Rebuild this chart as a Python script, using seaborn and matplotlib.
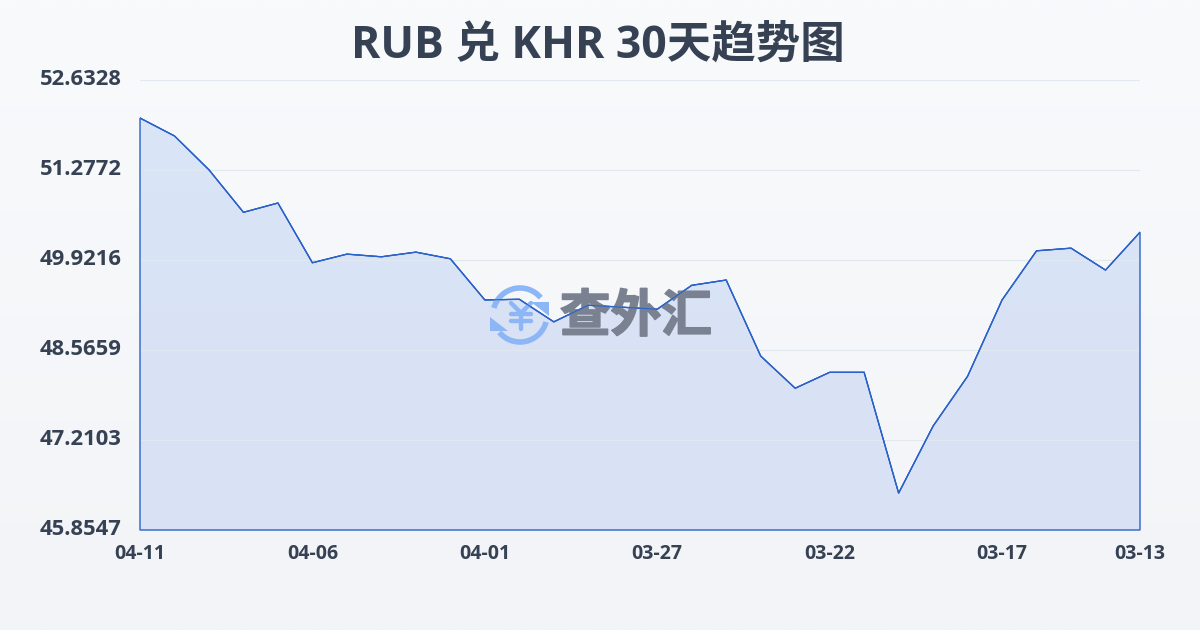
import numpy as np
import pandas as pd
import matplotlib
matplotlib.use("Agg")
import matplotlib.pyplot as plt
import matplotlib.patheffects as pe
from matplotlib.patches import Polygon, Arc
from matplotlib.transforms import ScaledTranslation
import seaborn as sns

dates = ["04-11", "04-10", "04-09", "04-08", "04-07", "04-06", "04-05", "04-04", "04-03", "04-02",
         "04-01", "03-31", "03-30", "03-29", "03-28", "03-27", "03-26", "03-25", "03-24", "03-23",
         "03-22", "03-21", "03-20", "03-19", "03-18", "03-17", "03-16", "03-15", "03-14", "03-13"]
rates = [52.06, 51.79, 51.28, 50.64, 50.78, 49.88, 50.01, 49.97, 50.04, 49.94,
         49.32, 49.33, 48.99, 49.24, 49.21, 49.18, 49.54, 49.62, 48.475, 47.99,
         48.23, 48.23, 46.41, 47.42, 48.17, 49.32, 50.06, 50.10, 49.77, 50.34]
y_ticks = [45.8547, 47.2103, 48.5659, 49.9216, 51.2772, 52.6328]
title = "RUB 兑 KHR 30天趋势图"
watermark = "查外汇"

sns.set_theme(style="white")
plt.rcParams["font.family"] = ["Noto Sans CJK SC", "DejaVu Sans"]

df = pd.DataFrame({"date": dates, "rate": rates})
TEXT = "#364153"
LINE = "#2a62c9"

fig = plt.figure(figsize=(12, 6.3), dpi=100)

# page background
bg = fig.add_axes([0, 0, 1, 1], zorder=0)
bg.imshow(np.linspace(0, 1, 256).reshape(-1, 1), aspect="auto", extent=[0, 1200, 630, 0],
          cmap=matplotlib.colors.LinearSegmentedColormap.from_list("bg", ["#f8fafc", "#f2f4f7"]))
bg.axis("off")

ax = fig.add_axes([140 / 1200, 100 / 630, 1000 / 1200, 450 / 630], zorder=1)
ax.patch.set_alpha(0)
sns.lineplot(data=df, x="date", y="rate", sort=False, color=LINE, linewidth=0.8, ax=ax, zorder=5)

# area with gradient, outlined on all sides
xs = np.arange(len(dates))
verts = [(0, y_ticks[0])] + list(zip(xs, rates)) + [(xs[-1], y_ticks[0])]
grad = ax.imshow(np.linspace(0, 1, 256).reshape(-1, 1), aspect="auto", zorder=2,
                 extent=[0, len(dates) - 1, y_ticks[0], y_ticks[-1]],
                 cmap=matplotlib.colors.LinearSegmentedColormap.from_list("fill", ["#dae5f8", "#d9e1f4"]))
clip = Polygon(verts, closed=True, transform=ax.transData, facecolor="none", edgecolor="none")
ax.add_patch(clip)
grad.set_clip_path(clip)
ax.add_patch(Polygon(verts, closed=True, facecolor="none", edgecolor=LINE, linewidth=1.0, zorder=5, clip_on=False))
ax.set_xlim(0, len(dates) - 1)
ax.set_ylim(y_ticks[0], y_ticks[-1])

ax.set_yticks(y_ticks)
ax.set_yticklabels(["%.4f" % v for v in y_ticks], fontsize=15.8, fontweight="bold", color=TEXT,
                   family=["Open Sans", "DejaVu Sans"])
tick_idx = [0, 5, 10, 15, 20, 25, 29]
ax.set_xticks(tick_idx)
ax.set_xticklabels([dates[i] for i in tick_idx], fontsize=14, fontweight="bold", color=TEXT,
                   family=["Open Sans", "DejaVu Sans"])
ax.tick_params(axis="x", length=7, width=0.8, color="#e8ebf0", pad=3)
ax.tick_params(axis="y", length=0, pad=13)
# labels sit a little above their gridlines
for lab in ax.get_yticklabels():
    lab.set_transform(lab.get_transform() + ScaledTranslation(0, 2 / 72, fig.dpi_scale_trans))
ax.set_xlabel("")
ax.set_ylabel("")
for s in ax.spines.values():
    s.set_visible(False)
ax.grid(axis="y", color="#e2e8f0", linewidth=0.8, zorder=3)
ax.set_axisbelow(False)
for gl in ax.get_ygridlines():
    gl.set_zorder(3)

fig.text(598 / 1200, 1 - 46 / 630, title, ha="center", va="center", fontsize=32, fontweight="bold", color=TEXT,
         family=["Open Sans", "Noto Sans CJK SC"])

# watermark in page pixels
wm = fig.add_axes([0, 0, 1, 1], zorder=2)
wm.set_xlim(0, 1200)
wm.set_ylim(630, 0)
wm.axis("off")
wm.patch.set_alpha(0)
BLUE = "#8db6f7"
wm.add_patch(Arc((520, 315), 54, 54, theta1=195, theta2=320, color=BLUE, linewidth=4, zorder=1))
wm.add_patch(Arc((520, 315), 54, 54, theta1=15, theta2=140, color=BLUE, linewidth=4, zorder=1))
wm.add_patch(Polygon([(549, 302), (531, 302), (549, 316)], closed=True, color=BLUE, linewidth=0))
wm.add_patch(Polygon([(490, 317), (508, 331), (490, 331)], closed=True, color=BLUE, linewidth=0))
for seg in ([(511, 303), (521, 313), (531, 303)], [(521, 313), (521, 329)], [(511, 314), (531, 314)], [(511, 321), (531, 321)]):
    wm.plot(*zip(*seg), color=BLUE, linewidth=3.2, solid_capstyle="round", solid_joinstyle="round")
wm_text = wm.text(636, 317, watermark, ha="center", va="center", fontsize=36.5, fontweight="black", color="#7a8292")
wm_text.set_path_effects([pe.withStroke(linewidth=1.2, foreground="#7a8292")])

# line stays on top of the watermark
top = fig.add_axes(ax.get_position(), zorder=3)
top.set_xlim(0, len(dates) - 1)
top.set_ylim(y_ticks[0], y_ticks[-1])
top.axis("off")
top.patch.set_alpha(0)
top.plot(xs, rates, color=LINE, linewidth=0.8)

fig.savefig("out.png", dpi=100)
